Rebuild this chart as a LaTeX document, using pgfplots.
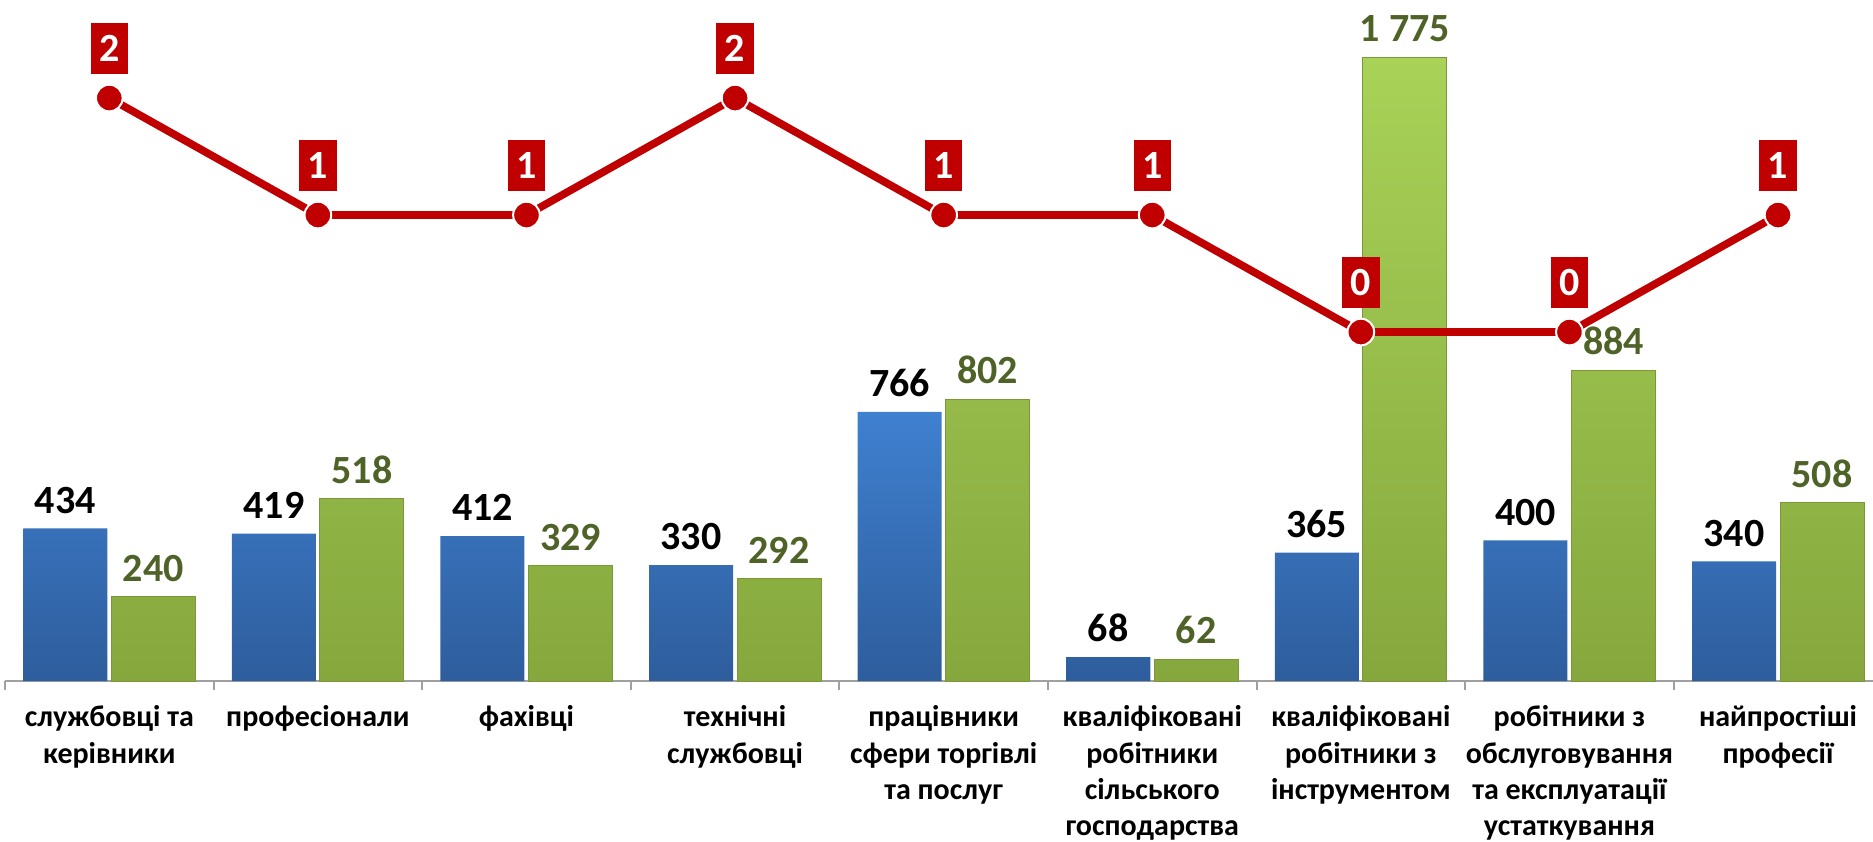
\documentclass[border=0pt]{standalone}
\usepackage{pgfplots}
\pgfplotsset{compat=1.18}
\usepackage{fontspec}
\setmainfont{Carlito}
\definecolor{bluetop}{HTML}{3F80D0}
\definecolor{bluebot}{HTML}{2E5D9C}
\definecolor{greentop}{HTML}{A8D258}
\definecolor{greenbot}{HTML}{86A73D}
\definecolor{greenedge}{HTML}{7A9838}
\definecolor{greenlab}{HTML}{4F6228}
\definecolor{redline}{HTML}{C00000}
\definecolor{axgray}{HTML}{A0A0A0}
\begin{document}
\begin{tikzpicture}
\begin{axis}[
  at={(1.5pt,48pt)}, anchor=south west,
  scale only axis, width=563.2pt, height=204.3pt,
  xmin=-0.5, xmax=8.5, ymin=0, ymax=1937.4,
  axis x line=bottom, axis y line=none,
  x axis line style={-, draw=axgray, line width=0.6pt},
  ybar=1.2pt, bar width=25.2pt,
  xtick={0,...,8}, major tick length=0pt,
  xticklabels={{службовці та\\керівники},{професіонали},{фахівці},{технічні\\службовці},{працівники\\сфери торгівлі\\та послуг},{кваліфіковані\\робітники\\сільського\\господарства},{кваліфіковані\\робітники з\\інструментом},{робітники з\\обслуговування\\та експлуатації\\устаткування},{найпростіші\\професії}},
  xticklabel style={align=center, font=\bfseries\fontsize{9}{10.9}\selectfont, anchor=north, yshift=-3.9pt},
  extra x ticks={-0.5,0.5,1.5,2.5,3.5,4.5,5.5,6.5,7.5,8.5},
  extra x tick labels={},
  extra x tick style={major tick length=2.7pt, tick align=outside, tick style={draw=axgray, line width=0.6pt}},
  /pgf/number format/assume math mode=true,
  /pgf/number format/1000 sep={\ },
  nodes near coords,
  nodes near coords style={font=\bfseries\fontsize{12}{14}\selectfont, anchor=base, yshift=4.6pt, inner sep=0pt},
]
\addplot[draw=none, top color=bluetop, bottom color=bluebot, nodes near coords style={text=black}]
  coordinates {(0,434) (1,419) (2,412) (3,330) (4,766) (5,68) (6,365) (7,400) (8,340)};
\addplot[draw=greenedge, line width=0.3pt, top color=greentop, bottom color=greenbot, nodes near coords style={text=greenlab}]
  coordinates {(0,240) (1,518) (2,329) (3,292) (4,802) (5,62) (6,1775) (7,884) (8,508)};
\end{axis}
\begin{axis}[
  at={(1.5pt,48pt)}, anchor=south west,
  scale only axis, width=563.2pt, height=204.3pt,
  xmin=-0.5, xmax=8.5, ymin=-2.983, ymax=2.838,
  hide axis, clip=false,
  /pgf/number format/assume math mode=true,
  nodes near coords,
  nodes near coords style={font=\bfseries\fontsize{12}{14}\selectfont, fill=redline, text=white, anchor=center, yshift=14.9pt, inner sep=0pt, minimum width=11.2pt, minimum height=15.2pt},
]
\addplot[draw=redline, line width=2.3pt, mark=*, mark size=4pt, mark options={fill=redline, draw=white, line width=0.6pt}]
  coordinates {(0,2) (1,1) (2,1) (3,2) (4,1) (5,1) (6,0) (7,0) (8,1)};
\end{axis}
\pgfresetboundingbox
\path[use as bounding box] (0,0) rectangle (561.9pt,252.3pt);
\end{tikzpicture}
\end{document}
